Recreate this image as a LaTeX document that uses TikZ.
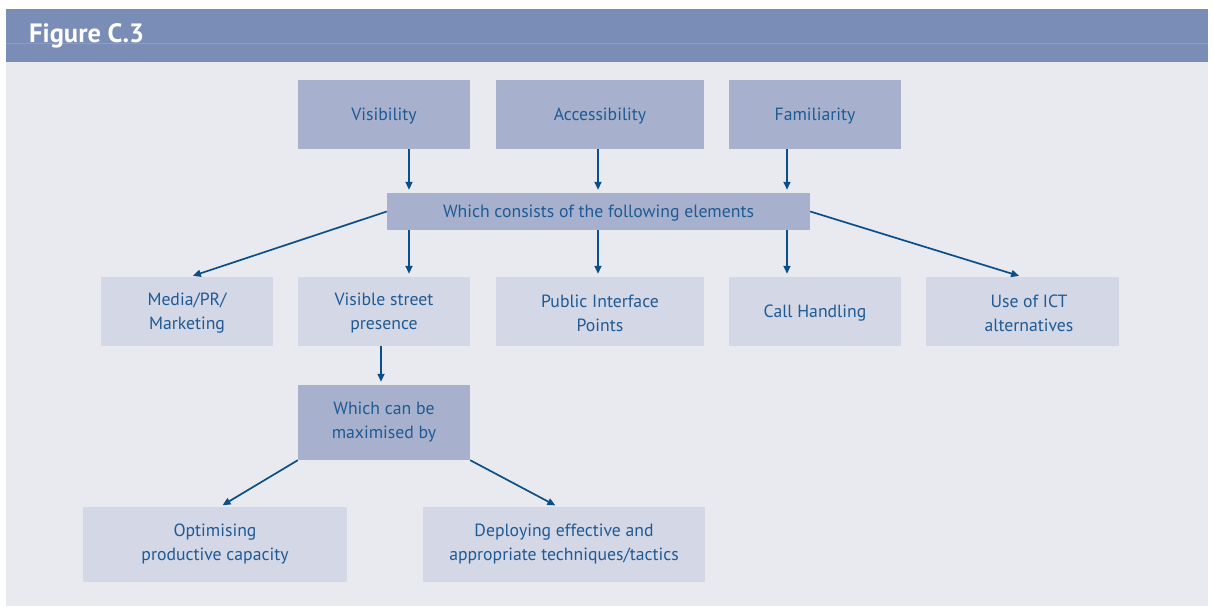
\documentclass[tikz,border=0pt]{standalone}
\usepackage{fontspec}
\setmainfont{PT Sans}
\usetikzlibrary{arrows.meta}
\definecolor{hdr}{HTML}{7A8DB7}
\definecolor{hdrline}{HTML}{8C9DC6}
\definecolor{bodybg}{HTML}{E9EAF0}
\definecolor{dkbox}{HTML}{A7B1CD}
\definecolor{ltbox}{HTML}{D3D7E6}
\definecolor{txt}{HTML}{1F5A94}
\definecolor{arr}{HTML}{0B4F8A}
\newcommand{\vstrut}{\rule[-5pt]{0pt}{22pt}}
\newcommand{\tstrut}{\rule{0pt}{16.5pt}}
\tikzset{
  boxbase/.style={draw=none, text=txt, font=\fontsize{17.7}{24}\selectfont, align=center, inner sep=0pt},
  dbox/.style={boxbase, fill=dkbox},
  lbox/.style={boxbase, fill=ltbox},
  conn/.style={draw=arr, line width=1.7pt, -{Triangle[length=8pt,width=7pt]}, shorten >=3pt}
}
\begin{document}
\begin{tikzpicture}[x=1pt,y=-1pt]
\useasboundingbox (0,0) rectangle (1213,609);
\fill[white] (0,0) rectangle (1213,609);
\fill[bodybg] (6,62) rectangle (1208,606);
\fill[hdr] (6,9) rectangle (1208,62);
\draw[hdrline, line width=0.8pt] (6,43) -- (1208,43);
\node[anchor=base west, inner sep=0pt, text=white, font=\fontsize{26.5}{28}\selectfont\bfseries] (title) at (29,43) {Figure C.3};

\node[dbox, minimum width=172, minimum height=69] (vis) at (384,114.5) {\vstrut Visibility};
\node[dbox, minimum width=208, minimum height=69] (acc) at (600,114.5) {\vstrut Accessibility};
\node[dbox, minimum width=172, minimum height=69] (fam) at (815,114.5) {\vstrut Familiarity};
\node[dbox, minimum width=423, minimum height=37] (cons) at (598.5,211.5) {\vstrut Which consists of the following elements};

\node[lbox, minimum width=172, minimum height=69] (media) at (187,311.5) {\tstrut Media/PR/\\Marketing};
\node[lbox, minimum width=172, minimum height=69] (street) at (384,311.5) {\tstrut Visible street\\presence};
\node[lbox, minimum width=208, minimum height=69] (pip) at (600,311.5) {\tstrut Public Interface\\Points};
\node[lbox, minimum width=172, minimum height=69] (call) at (815,311.5) {\vstrut Call Handling};
\node[lbox, minimum width=193, minimum height=69] (ict) at (1022.5,311.5) {\tstrut\hspace*{13pt}Use of ICT\\\hspace*{13pt}alternatives};

\node[dbox, minimum width=172, minimum height=75] (max) at (384,422.5) {Which can be\\maximised by};

\node[lbox, minimum width=264, minimum height=75] (opt) at (215,544.5) {Optimising\\productive capacity};
\node[lbox, minimum width=282, minimum height=75] (dep) at (564,544.5) {Deploying effective and\\appropriate techniques/tactics};

\coordinate (xa) at (409,0);
\coordinate (xb) at (598,0);
\coordinate (xc) at (787,0);
\coordinate (xm) at (190,0);
\coordinate (xi) at (1022,0);
\coordinate (xs) at (381,0);
\coordinate (xo) at (220,0);
\coordinate (xd) at (558,0);

\draw[conn] (vis.south -| xa) -- (cons.north -| xa);
\draw[conn] (acc.south -| xb) -- (cons.north -| xb);
\draw[conn] (fam.south -| xc) -- (cons.north -| xc);

\draw[conn] (cons.south -| xa) -- (street.north -| xa);
\draw[conn] (cons.south -| xb) -- (pip.north -| xb);
\draw[conn] (cons.south -| xc) -- (call.north -| xc);
\draw[conn] (cons.west) -- (media.north -| xm);
\draw[conn] (cons.east) -- (ict.north -| xi);

\draw[conn] (street.south -| xs) -- (max.north -| xs);
\draw[conn] (max.south west) -- (opt.north -| xo);
\draw[conn] (max.south east) -- (dep.north -| xd);
\end{tikzpicture}
\end{document}
